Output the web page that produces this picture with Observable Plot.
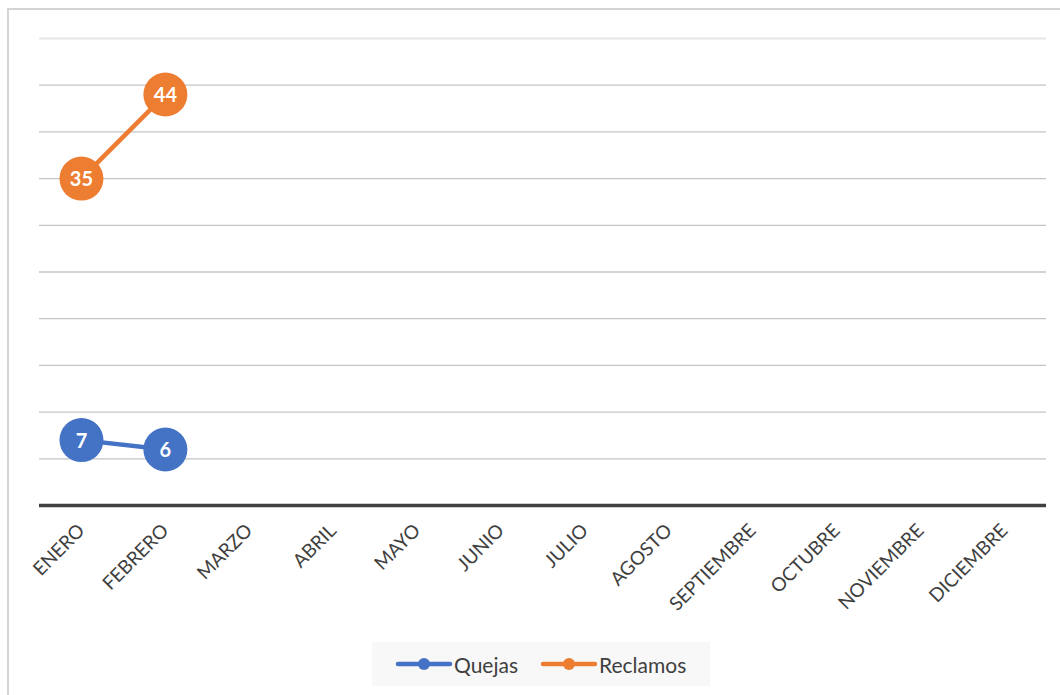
<!DOCTYPE html>
<html>
<head>
<meta charset="utf-8">
<script src="https://cdn.jsdelivr.net/npm/d3@7"></script>
<script src="https://cdn.jsdelivr.net/npm/@observablehq/plot@0.6"></script>
<style>
  html, body { margin: 0; padding: 0; background: #fff; }
  #wrap { position: relative; width: 1060px; height: 695px; overflow: hidden; font-family: Lato, "Open Sans", sans-serif; }
  #frame { position: absolute; left: 7px; top: 8px; width: 1200px; height: 800px; border-left: 2px solid #d4d4d4; border-top: 2px solid #d4d4d4; pointer-events: none; }
  #legend { position: absolute; left: 372px; top: 642px; width: 338px; height: 44px; background: #f8f8f8; display: flex; align-items: center; justify-content: flex-start; font-size: 21px; color: #404040; }
  .item { display: flex; align-items: center; }
  .item svg { margin-right: 1px; }
</style>
</head>
<body>
<div id="wrap"><div id="chart"></div><div id="legend"></div><div id="frame"></div></div>
<script>
const months = ["ENERO","FEBRERO","MARZO","ABRIL","MAYO","JUNIO","JULIO","AGOSTO","SEPTIEMBRE","OCTUBRE","NOVIEMBRE","DICIEMBRE"];
const dataMonths = ["ENERO","FEBRERO"];
const quejas = [7, 6];
const reclamos = [35, 44];
const gridTicks = [5,10,15,20,25,30,35,40,45];
const series = [
  {name: "Quejas", values: quejas, color: "#4472C4"},
  {name: "Reclamos", values: reclamos, color: "#ED7D31"}
];
const rows = series.flatMap(s => s.values.map((v, i) => ({serie: s.name, month: dataMonths[i], value: v, color: s.color})));

const chart = Plot.plot({
  width: 1060,
  height: 640,
  marginLeft: 39,
  marginRight: 14,
  marginTop: 38,
  marginBottom: 135,
  style: {fontFamily: "Lato, 'Open Sans', sans-serif", fontSize: "16px", background: "transparent"},
  x: {type: "point", domain: months, padding: 0.5, round: false},
  y: {domain: [0, 50], axis: null},
  marks: [
    Plot.ruleY(gridTicks, {stroke: "#c4c4c4", strokeWidth: 1.3}),
    Plot.ruleY([50], {stroke: "#e6e6e6", strokeWidth: 2}),
    Plot.ruleY([0], {stroke: "#404040", strokeWidth: 3.5}),
    Plot.axisX({tickSize: 0, tickRotate: -45, tickPadding: 22, fontSize: 19, fill: "#404040", label: null, dx: 0}),
    ...series.map(s => Plot.line(rows.filter(r => r.serie === s.name), {x: "month", y: "value", stroke: s.color, strokeWidth: 4.5})),
    Plot.dot(rows, {x: "month", y: "value", r: 22, fill: "color", stroke: null}),
    Plot.text(rows, {x: "month", y: "value", text: d => String(d.value), fill: "white", fontWeight: "bold", fontSize: 20, dy: 1})
  ]
});
document.getElementById("chart").appendChild(chart);

const legend = document.getElementById("legend");
series.forEach((s, i) => {
  const it = document.createElement("div");
  it.className = "item";
  it.style.marginLeft = i === 0 ? "23px" : "22px";
  it.innerHTML = `<svg width="58" height="14"><line x1="3" y1="7" x2="55" y2="7" stroke="${s.color}" stroke-width="4.5" stroke-linecap="round"/><circle cx="29" cy="7" r="6" fill="${s.color}"/></svg><span>${s.name}</span>`;
  legend.appendChild(it);
});
</script>
</body>
</html>
